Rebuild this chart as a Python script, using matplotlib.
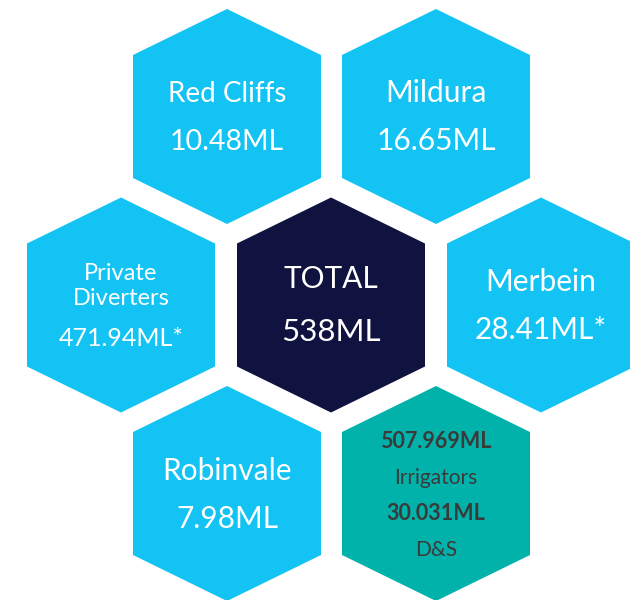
import matplotlib
matplotlib.use("Agg")
import matplotlib.pyplot as plt
from matplotlib.patches import Polygon

# Water use by town (ML)
towns = ["Red Cliffs", "Mildura", "Private\nDiverters", "TOTAL", "Merbein", "Robinvale"]
volumes = ["10.48ML", "16.65ML", "471.94ML*", "538ML", "28.41ML*", "7.98ML"]
# split of the total
split_values = ["507.969ML", "30.031ML"]
split_labels = ["Irrigators", "D&S"]

BLUE = "#13C3F3"
NAVY = "#10123F"
TEAL = "#01B2AA"

plt.rcParams['font.family'] = ['Lato', 'DejaVu Sans']

fig = plt.figure(figsize=(6.3, 6.0), dpi=100)
ax = fig.add_axes([0, 0, 1, 1])
ax.set_xlim(0, 630)
ax.set_ylim(600, 0)
ax.axis("off")

# hexagon geometry (pixels)
hw, hv, hs = 94, 107.5, 61.5


def hexagon(cx, cy, color):
    pts = [(cx, cy - hv), (cx + hw, cy - hs), (cx + hw, cy + hs),
           (cx, cy + hv), (cx - hw, cy + hs), (cx - hw, cy - hs)]
    ax.add_patch(Polygon(pts, closed=True, facecolor=color, edgecolor="none"))


# honeycomb layout: (center x, center y)
cells = [(227, 116.5), (436, 116.5),
         (121, 305), (331, 305), (541, 305),
         (227, 493.5), (436, 493.5)]

for i, (name, vol) in enumerate(zip(towns, volumes)):
    cx, cy = cells[i]
    col = NAVY if name == "TOTAL" else BLUE
    hexagon(cx, cy, col)
    if name.startswith("Private"):
        ax.text(cx, cy - 19, name, ha="center", va="center", color="white",
                fontsize=17, linespacing=1.25)
        ax.text(cx, cy + 34, vol, ha="center", va="center", color="white", fontsize=18)
    elif name == "TOTAL":
        ax.text(cx, cy - 26, name, ha="center", va="center", color="white", fontsize=21.5)
        ax.text(cx, cy + 27, vol, ha="center", va="center", color="white", fontsize=22.5)
    elif name == "Red Cliffs":
        ax.text(cx, cy - 22, name, ha="center", va="center", color="white", fontsize=20)
        ax.text(cx, cy + 25, vol, ha="center", va="center", color="white", fontsize=20.5)
    else:
        ax.text(cx, cy - 23, name, ha="center", va="center", color="white", fontsize=21.5)
        ax.text(cx, cy + 25, vol, ha="center", va="center", color="white", fontsize=21.5)

# split hexagon
cx, cy = cells[6]
hexagon(cx, cy, TEAL)
ys = [cy - 52, cy - 16, cy + 20, cy + 56]
for k in range(2):
    ax.text(cx, ys[2 * k], split_values[k], ha="center", va="center",
            color="#3A3A3A", fontsize=15.5, fontweight="bold")
    ax.text(cx, ys[2 * k + 1], split_labels[k], ha="center", va="center",
            color="#3A3A3A", fontsize=15)

fig.savefig("out.png", dpi=100)
